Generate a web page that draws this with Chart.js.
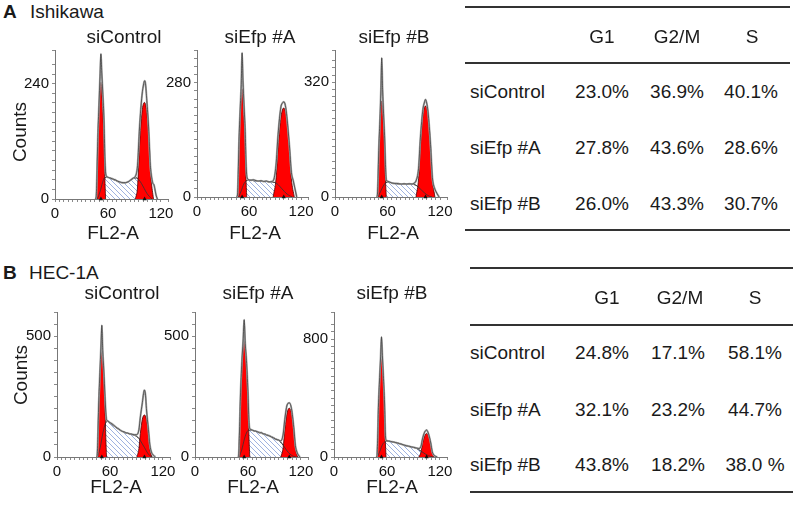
<!DOCTYPE html>
<html>
<head>
<meta charset="utf-8">
<script src="https://cdn.jsdelivr.net/npm/chart.js@4.4.1/dist/chart.umd.min.js"></script>
<style>
  body { margin:0; background:#fff; width:796px; height:505px; position:relative; overflow:hidden;
         font-family:'Liberation Sans', Arial, sans-serif; color:#1a1a1a; }
  .t { position:absolute; font-size:19px; line-height:22px; white-space:nowrap; }
  .c { transform:translateX(-50%); }
  .rot { transform:translate(-50%,-50%) rotate(-90deg); }
  .rule { position:absolute; height:2px; background:#333; }
  canvas { position:absolute; }
</style>
</head>
<body>
<script>
// ---- data: [FL2-A channel, counts] ----
const X_LABELS = [0, 60, 120];

// Ishikawa siControl
const A1_TOTAL = [[45.5,0],[46.7,5],[47.5,50],[48.5,128],[49.8,195],[51,255],[52,302],[53,262],[54.2,218],[55.5,164],[56.5,88],[57.5,52],[59,46],[62,44],[65,42],[68,40],[71,37],[74,35],[77,34],[80,34],[83,36],[86,40],[89,44],[91,47],[93.5,70],[95.8,150],[98.5,215],[100.5,240],[101.5,246],[102.5,240],[104,205],[106,150],[108,70],[109.5,45],[111,32],[112,30],[113,22],[114.5,8],[116,0]];
const A1_G1 = [[46.7,0],[47.5,44],[48.5,122],[49.8,182],[52,243],[54.2,182],[55.5,122],[56.5,44],[57.3,0]];
const A1_G2 = [[91,0],[93.5,25],[95.8,112],[98.5,181],[101.3,201],[104,181],[106.8,112],[109,40],[111.6,0]];
const A1_S = [[48,0],[51,15],[54,35],[56,44],[60,45],[64,42],[68,39],[72,36],[76,34],[80,34],[84,37],[88,42],[92,44],[95,40],[98,32],[101,22],[104,12],[107,5],[110,0]];
const A1_PEAKS = [52, 101.5];

// Ishikawa siEfp #A
const A2_TOTAL = [[45.5,0],[46.7,5],[47.5,55],[48.4,135],[49.8,215],[51,275],[52,353],[53,285],[54.2,226],[55.6,160],[56.5,88],[57.5,50],[59,43],[62,41],[65,42],[68,40],[71,39],[74,40],[77,38],[80,39],[83,37],[86,38],[88,40],[91.1,78],[93.5,153],[96.8,221],[98.5,230],[100,233],[101.5,228],[103.2,205],[106.5,128],[108.9,60],[111,40],[113,20],[115,0]];
const A2_G1 = [[46.7,0],[47.5,48],[48.4,122],[49.8,196],[52,265],[54.2,196],[55.6,122],[56.5,48],[57.3,0]];
const A2_G2 = [[87.8,0],[91.1,44],[93.5,122],[96.8,196],[100,218],[103.2,196],[106.5,122],[108.9,44],[112.2,0]];
const A2_S = [[48,0],[51,15],[54,32],[57,40],[60,42],[65,40],[70,39],[75,38],[80,38],[85,37],[89,36],[92,33],[95,27],[98,20],[101,13],[104,7],[107,3],[110,0]];
const A2_PEAKS = [52, 100];

// Ishikawa siEfp #B
const A3_TOTAL = [[47.5,0],[48.4,5],[49.2,52],[50,130],[51.3,212],[52.5,300],[53.4,388],[54.4,300],[55.5,232],[56.8,162],[57.7,90],[58.6,48],[60,44],[62,42],[64,40],[67,38],[70,38],[73,37],[76,36],[79,37],[82,36],[85,37],[88,36],[90,38],[92.6,45],[95.5,80],[97.6,165],[100.5,245],[102,262],[103.4,272],[104.8,262],[106.3,238],[109.2,146],[111.3,55],[112.5,35],[114.5,20],[116.5,10],[119,0]];
const A3_G1 = [[48.4,0],[49.2,48],[50,123],[51.3,198],[53.4,268],[55.5,198],[56.8,123],[57.7,48],[58.6,0]];
const A3_G2 = [[92.6,0],[95.5,51],[97.6,142],[100.5,229],[103.4,254],[106.3,229],[109.2,142],[111.3,51],[114.2,0]];
const A3_S = [[49,0],[52,15],[55,30],[58,40],[61,42],[65,39],[70,37],[75,36],[80,36],[85,36],[90,35],[93,32],[96,26],[99,19],[102,12],[105,6],[108,2],[111,0]];
const A3_PEAKS = [53.4, 103.4];

// HEC-1A siControl
const B1_TOTAL = [[44.5,0],[45.5,5],[46.3,85],[47.2,215],[48.6,350],[49.8,455],[50.8,545],[51.8,440],[53,360],[54.4,250],[55.3,185],[56.1,155],[57,150],[58,148],[60,142],[62,138],[64,132],[66,126],[68,120],[70,116],[72,110],[74,106],[76,104],[78,100],[80,99],[82,96],[84,95],[86,93],[88,92],[90,92],[92.8,113],[94.4,165],[96.7,225],[98,262],[99,277],[100.3,255],[101.3,200],[103.6,113],[105.2,50],[107,20],[109,8],[111.5,0]];
const B1_G1 = [[45.5,0],[46.3,80],[47.2,203],[48.6,327],[50.8,442],[53,327],[54.4,203],[55.3,80],[56.1,0]];
const B1_G2 = [[90.5,0],[92.8,35],[94.4,97],[96.7,157],[99,174],[101.3,157],[103.6,97],[105.2,35],[107.5,0]];
const B1_S = [[46,0],[49,40],[52,100],[55,140],[57,148],[60,140],[63,132],[66,124],[70,114],[74,106],[78,100],[82,96],[86,92],[90,86],[93,76],[96,58],[99,40],[102,20],[105,6],[108,0]];
const B1_PEAKS = [50.8, 99];

// HEC-1A siEfp #A
const B2_TOTAL = [[48.5,0],[49.4,5],[50.3,90],[51.4,245],[53.1,395],[54.5,480],[55.7,568],[56.9,470],[58.3,400],[60,270],[61.1,150],[62,118],[63,114],[65,111],[67,108],[69,107],[71,104],[73,100],[75,101],[77,96],[79,95],[81,91],[83,89],[85,86],[87,82],[89,79],[91,74],[93,72],[95,70],[97,66],[99.9,95],[101.7,155],[104.3,215],[106.8,224],[109.3,200],[111.9,122],[113.7,48],[115.5,20],[117.5,6],[119,0]];
const B2_G1 = [[49.4,0],[50.3,87],[51.4,224],[53.1,360],[55.7,486],[58.3,360],[60,224],[61.1,87],[62,0]];
const B2_G2 = [[97.3,0],[99.9,40],[101.7,113],[104.3,182],[106.8,202],[109.3,182],[111.9,113],[113.7,40],[116.3,0]];
const B2_S = [[50,0],[53,30],[56,75],[59,105],[62,112],[66,109],[70,105],[74,101],[78,96],[82,91],[86,85],[90,78],[94,70],[97,62],[100,48],[103,32],[106,18],[109,8],[112,2],[115,0]];
const B2_PEAKS = [55.7, 106.8];

// HEC-1A siEfp #B
const B3_TOTAL = [[47.5,0],[48.7,5],[49.5,135],[50.3,335],[51.7,540],[52.8,680],[53.8,816],[54.8,690],[55.9,555],[57.3,360],[58.1,170],[58.9,115],[60,110],[62,108],[64,106],[66,103],[68,101],[70,98],[72,95],[74,91],[76,88],[78,84],[80,80],[82,77],[84,74],[86,72],[88,68],[90,66],[92,63],[94,60],[96,58],[98.5,72],[100.2,122],[102.6,168],[104.9,183],[107.2,155],[109.6,95],[111.3,36],[113,14],[115,5],[117,0]];
const B3_G1 = [[48.7,0],[49.5,125],[50.3,318],[51.7,512],[53.8,692],[55.9,512],[57.3,318],[58.1,125],[58.9,0]];
const B3_G2 = [[96.1,0],[98.5,32],[100.2,90],[102.6,144],[104.9,160],[107.2,144],[109.6,90],[111.3,32],[113.7,0]];
const B3_S = [[49,0],[52,40],[55,85],[58,105],[61,108],[65,104],[69,99],[73,93],[77,85],[81,77],[85,71],[89,66],[92,62],[95,54],[98,42],[101,30],[104,18],[107,9],[110,3],[113,0]];
const B3_PEAKS = [53.8, 104.9];

// y axes: labelled tick and axis top
const Y_LABEL = [240, 280, 320, 500, 500, 800];
const Y_MAX = [310, 360, 410, 600, 600, 985];
const Y_STEP = [20, 20, 20, 50, 50, 50];

// tables
const PHASES = ['G1', 'G2/M', 'S'];
const SAMPLES = ['siControl', 'siEfp #A', 'siEfp #B'];
const ISHIKAWA_PCT = [['23.0%','36.9%','40.1%'], ['27.8%','43.6%','28.6%'], ['26.0%','43.3%','30.7%']];
const HEC1A_PCT = [['24.8%','17.1%','58.1%'], ['32.1%','23.2%','44.7%'], ['43.8%','18.2%','38.0 %']];

// ---- layout ----
const X_MAX = 128;
const GUT_L = 36, GUT_B = 26, PAD_T = 12, PAD_R = 14;
const PLOTS = [
  { x:55,  y:50,  w:113, h:149, total:A1_TOTAL, g1:A1_G1, g2:A1_G2, s:A1_S, peaks:A1_PEAKS },
  { x:197, y:50,  w:111, h:147, total:A2_TOTAL, g1:A2_G1, g2:A2_G2, s:A2_S, peaks:A2_PEAKS },
  { x:335, y:50,  w:112, h:147, total:A3_TOTAL, g1:A3_G1, g2:A3_G2, s:A3_S, peaks:A3_PEAKS },
  { x:57,  y:312, w:113, h:145, total:B1_TOTAL, g1:B1_G1, g2:B1_G2, s:B1_S, peaks:B1_PEAKS },
  { x:195, y:312, w:113, h:145, total:B2_TOTAL, g1:B2_G1, g2:B2_G2, s:B2_S, peaks:B2_PEAKS },
  { x:334, y:312, w:113, h:145, total:B3_TOTAL, g1:B3_G1, g2:B3_G2, s:B3_S, peaks:B3_PEAKS },
];

Chart.defaults.font.family = "'Liberation Sans', Arial, sans-serif";
Chart.defaults.color = '#111';
const TICK_FONT = { family: "'Liberation Sans', Arial, sans-serif", size: 15 };

function text(str, x, cy, cls, extra) {
  const d = document.createElement('div');
  d.className = 't ' + (cls || '');
  d.textContent = str;
  d.style.left = x + 'px';
  d.style.top = (cy - 11) + 'px';
  if (extra) d.style.cssText += extra;
  document.body.appendChild(d);
}
function rule(x1, x2, y) {
  const d = document.createElement('div');
  d.className = 'rule';
  d.style.left = x1 + 'px'; d.style.width = (x2 - x1) + 'px'; d.style.top = (y - 1) + 'px';
  document.body.appendChild(d);
}

function hatch() {
  const n = 5;
  const c = document.createElement('canvas'); c.width = c.height = n;
  const g = c.getContext('2d');
  g.fillStyle = '#fff'; g.fillRect(0, 0, n, n);
  g.strokeStyle = '#86a0d8'; g.lineWidth = 0.8;
  g.beginPath();
  g.moveTo(-1, -1); g.lineTo(n + 1, n + 1);
  g.moveTo(-1, n - 1); g.lineTo(1, n + 1);
  g.moveTo(n - 1, -1); g.lineTo(n + 1, 1);
  g.stroke();
  return g.createPattern(c, 'repeat');
}
const HATCH = hatch();
const pts = a => a.map(p => ({ x: p[0], y: p[1] }));

function drawPlot(p, i) {
  const cv = document.createElement('canvas');
  cv.width = GUT_L + p.w + PAD_R; cv.height = PAD_T + p.h + GUT_B;
  cv.style.left = (p.x - GUT_L) + 'px'; cv.style.top = (p.y - PAD_T) + 'px';
  document.body.appendChild(cv);
  const line = (data, o) => Object.assign({ data: pts(data), pointRadius: 0, borderWidth: 0.8,
    cubicInterpolationMode: 'monotone', fill: false }, o);
  const axisGrid = { drawOnChartArea: false, tickLength: 3, color: '#8a8a8a' };
  new Chart(cv, {
    type: 'line',
    data: { datasets: [
      { data: p.peaks.map(x => ({ x, y: 0 })), showLine: false, pointStyle: 'triangle', pointRadius: 2.4,
        backgroundColor: '#111', borderWidth: 0, clip: false, order: 0 },
      line(p.total, { borderColor: '#333', borderWidth: 0.7, order: 1 }),
      line(p.total, { borderColor: '#aaaaaa', borderWidth: 2, order: 2 }),
      line(p.s, { borderColor: '#333', order: 3 }),
      line(p.g1, { borderColor: '#4a0000', backgroundColor: '#ff0000', fill: 'origin', order: 4 }),
      line(p.g2, { borderColor: '#4a0000', backgroundColor: '#ff0000', fill: 'origin', order: 5 }),
      line(p.s, { borderColor: '#333', backgroundColor: HATCH, fill: 'origin', order: 6 }),
    ]},
    options: {
      responsive: false, animation: false,
      layout: { padding: { left: 0, top: PAD_T, right: PAD_R, bottom: 0 } },
      plugins: { legend: { display: false }, tooltip: { enabled: false } },
      scales: {
        x: { type: 'linear', min: 0, max: X_MAX, afterFit: s => { s.height = GUT_B; },
             grid: axisGrid, border: { color: '#777' },
             ticks: { stepSize: 5, autoSkip: false, maxRotation: 0, padding: 3, font: TICK_FONT,
                      callback: v => X_LABELS.includes(v) ? String(v) : '' } },
        y: { type: 'linear', min: 0, max: Y_MAX[i], afterFit: s => { s.width = GUT_L; },
             grid: axisGrid, border: { color: '#777' },
             ticks: { stepSize: Y_STEP[i], autoSkip: false, padding: 3, font: TICK_FONT,
                      callback: v => (v === 0 || v === Y_LABEL[i]) ? String(v) : '' } }
      }
    }
  });
}
PLOTS.forEach(drawPlot);

// ---- panel text ----
text('A', 3, 12, '', 'font-weight:bold');
text('Ishikawa', 30, 12);
text('B', 3, 273, '', 'font-weight:bold');
text('HEC-1A', 29, 273);
[[124,37],[260,37],[394,37],[122,293],[258,293],[392,293]].forEach((q, k) => text(SAMPLES[k % 3], q[0], q[1], 'c'));
[[113,233],[255,233],[393,233],[116,487],[253,487],[392,487]].forEach(q => text('FL2-A', q[0], q[1], 'c'));
text('Counts', 20, 132 + 11, 'rot');
text('Counts', 21, 375 + 11, 'rot');

// ---- tables ----
function table(lines, lx1, lx2, headY, headX, rowY, valX, vals) {
  lines.forEach(y => rule(lx1, lx2, y));
  PHASES.forEach((h, k) => text(h, headX[k], headY, 'c'));
  SAMPLES.forEach((s, r) => {
    text(s, 470, rowY[r]);
    vals[r].forEach((v, k) => text(v, valX[k], rowY[r], 'c'));
  });
}
table([7, 63, 230], 465, 790, 37, [602, 677, 752], [92, 148, 204], [602, 677, 751], ISHIKAWA_PCT);
table([268, 325, 492], 470, 793, 298, [607, 680, 755], [353, 410, 465], [602, 678, 755], HEC1A_PCT);
</script>
</body>
</html>
